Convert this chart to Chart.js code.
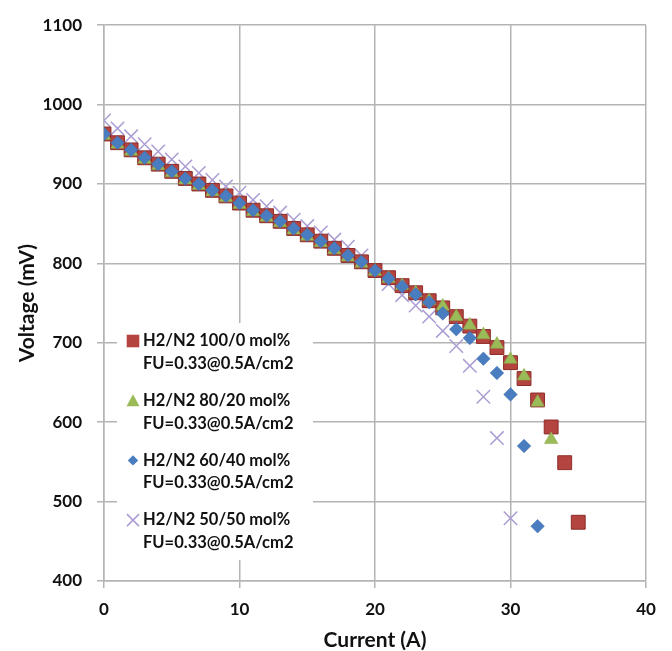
<!DOCTYPE html>
<html>
<head>
<meta charset="utf-8">
<script src="https://cdn.jsdelivr.net/npm/chart.js@4.4.1/dist/chart.umd.min.js"></script>
<style>
  html, body { margin: 0; padding: 0; background: #fff; }
  #wrap { position: relative; width: 672px; height: 651px; }
</style>
</head>
<body>
<div id="wrap"><canvas id="c" width="672" height="651"></canvas></div>
<script>
// ---- data ----
const current = [0,1,2,3,4,5,6,7,8,9,10,11,12,13,14,15,16,17,18,19,20,21,22,23,24,25,26,27,28,29,30,31,32,33,34,35];
const v100_0 = [963,952,943,933,925,916,907,900,892,885,876,867,860,853,844,836,828,819,810,802,791,782,772,763,753,744,733,721,708,694,675,655,628,594,549,474];
const v80_20 = [961,950,941,931,923,914,905,898,890,883,874,865,858,851,842,834,826,817,808,800,790,781,772,763,753,746,733,722,710,698,679,658,625,578];
const v60_40 = [963,952,943,933,925,916,907,900,892,885,876,867,860,853,844,836,828,819,810,802,791,781,771,761,751,737,717,706,680,662,635,570,469];
const v50_50 = [980,970,960,950,941,931,922,914,905,897,889,880,872,864,855,847,839,830,821,810,792,774,760,747,733,715,696,671,632,580,479];
const seriesLine1 = ['H2/N2 100/0 mol%', 'H2/N2 80/20 mol%', 'H2/N2 60/40 mol%', 'H2/N2 50/50 mol%'];
const seriesLine2 = ['FU=0.33@0.5A/cm2', 'FU=0.33@0.5A/cm2', 'FU=0.33@0.5A/cm2', 'FU=0.33@0.5A/cm2'];
const xTicks = [0, 10, 20, 30, 40];
const yTicks = [400, 500, 600, 700, 800, 900, 1000, 1100];
const xTitle = 'Current (A)';
const yTitle = 'Voltage (mV)';

function pts(vals) { return vals.map((v, i) => ({ x: current[i], y: v })); }

const FONT = 'Lato, "Open Sans", sans-serif';
const GRID = '#b4b4b4';

const styles = [
  { pointStyle: 'rect', radius: 9.8, fill: '#b4443f', border: '#8e2c29', bw: 1, order: 2 },
  { pointStyle: 'triangle', radius: 7.8, fill: '#9bbb59', border: '#86a646', bw: 0.5, order: 1 },
  { pointStyle: 'rectRot', radius: 6.8, fill: '#4a7cc0', border: '#3d6cae', bw: 0.5, order: 0 },
  { pointStyle: 'crossRot', radius: 9.5, fill: 'rgba(0,0,0,0)', border: '#ab9dd3', bw: 1.5, order: 3 }
];
const seriesValues = [v100_0, v80_20, v60_40, v50_50];

const datasets = seriesValues.map((vals, k) => ({
  label: seriesLine1[k] + ' ' + seriesLine2[k],
  data: pts(vals),
  showLine: false,
  pointStyle: styles[k].pointStyle,
  pointRadius: styles[k].radius,
  pointHoverRadius: styles[k].radius,
  backgroundColor: styles[k].fill,
  borderColor: styles[k].border,
  pointBorderWidth: styles[k].bw,
  borderWidth: styles[k].bw,
  order: styles[k].order
}));

const legendPlugin = {
  id: 'insetLegend',
  beforeDatasetsDraw(chart) {
    const ctx = chart.ctx;
    const a = chart.chartArea;
    ctx.save();
    // white legend box hides the grid underneath
    ctx.fillStyle = '#ffffff';
    ctx.fillRect(a.left + 13, 323, 196, 237);
    const mx = a.left + 29;
    const tx = a.left + 39;
    ctx.font = 'bold 16.5px ' + FONT;
    ctx.textBaseline = 'middle';
    ctx.textAlign = 'left';
    for (let k = 0; k < 4; k++) {
      const y1 = 341 + k * 59.7;
      const y2 = y1 + 22.5;
      const s = styles[k];
      ctx.beginPath();
      if (s.pointStyle === 'rect') {
        ctx.rect(mx - 6.3, y1 - 6.3, 12.6, 12.6);
        ctx.fillStyle = s.fill; ctx.fill();
      } else if (s.pointStyle === 'triangle') {
        ctx.moveTo(mx, y1 - 6.5);
        ctx.lineTo(mx + 6.5, y1 + 5.5);
        ctx.lineTo(mx - 6.5, y1 + 5.5);
        ctx.closePath();
        ctx.fillStyle = s.fill; ctx.fill();
      } else if (s.pointStyle === 'rectRot') {
        ctx.moveTo(mx, y1 - 5.2);
        ctx.lineTo(mx + 5.2, y1);
        ctx.lineTo(mx, y1 + 5.2);
        ctx.lineTo(mx - 5.2, y1);
        ctx.closePath();
        ctx.fillStyle = s.fill; ctx.fill();
      } else {
        ctx.moveTo(mx - 6, y1 - 6); ctx.lineTo(mx + 6, y1 + 6);
        ctx.moveTo(mx + 6, y1 - 6); ctx.lineTo(mx - 6, y1 + 6);
        ctx.strokeStyle = s.border; ctx.lineWidth = 1.5; ctx.stroke();
      }
      ctx.fillStyle = '#111';
      ctx.fillText(seriesLine1[k], tx, y1);
      ctx.fillText(seriesLine2[k], tx, y2);
    }
    ctx.restore();
  }
};

new Chart(document.getElementById('c'), {
  type: 'scatter',
  data: { datasets },
  plugins: [legendPlugin],
  options: {
    responsive: false,
    animation: false,
    layout: { padding: { left: 0, right: 26, top: 20, bottom: 0 } },
    plugins: { legend: { display: false }, tooltip: { enabled: false } },
    scales: {
      x: {
        type: 'linear', min: 0, max: 40,
        afterBuildTicks(s) { s.ticks = xTicks.map(v => ({ value: v })); },
        afterFit(s) { s.height = 70; },
        grid: { color: GRID, lineWidth: 1.5, tickLength: 7, drawTicks: true },
        border: { color: GRID, width: 1.5 },
        ticks: { color: '#111', padding: 11, callback: v => String(v),
                 font: { family: FONT, size: 17, weight: 'bold' } },
        title: { display: true, text: xTitle, color: '#111', padding: { top: 0, bottom: 0 },
                 font: { family: FONT, size: 21, weight: 'bold', lineHeight: 1 } }
      },
      y: {
        type: 'linear', min: 400, max: 1100,
        afterBuildTicks(s) { s.ticks = yTicks.map(v => ({ value: v })); },
        afterFit(s) { s.width = 104; },
        grid: { color: GRID, lineWidth: 1.5, tickLength: 7, drawTicks: true },
        border: { color: GRID, width: 1.5 },
        ticks: { color: '#111', padding: 15, callback: v => String(v),
                 font: { family: FONT, size: 17, weight: 'bold' } },
        title: { display: true, text: yTitle, color: '#111', padding: { top: 17, bottom: 0 },
                 font: { family: FONT, size: 21, weight: 'bold', lineHeight: 1 } }
      }
    }
  }
});
</script>
</body>
</html>
